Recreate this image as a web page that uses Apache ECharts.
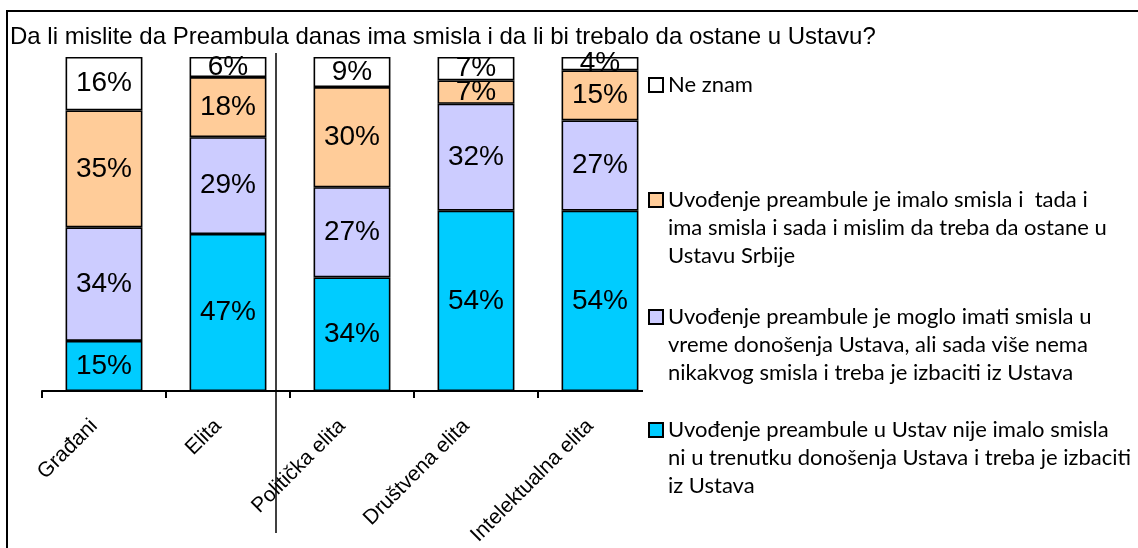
<!DOCTYPE html>
<html>
<head>
<meta charset="utf-8">
<style>
  html, body { margin: 0; padding: 0; background: #fff; }
  #chart { width: 1138px; height: 548px; }
</style>
<script src="https://cdn.jsdelivr.net/npm/echarts@6/dist/echarts.min.js"></script>
</head>
<body>
<div id="chart"></div>
<script>
const categories = ['Građani', 'Elita', 'Politička elita', 'Društvena elita', 'Intelektualna elita'];

// shares in %, bottom to top of each bar
const izbaciti = [15, 47, 34, 54, 54];
const viseNema = [34, 29, 27, 32, 27];
const ostane = [35, 18, 30, 7, 15];
const neZnam = [16, 6, 9, 7, 4];

const seriesNames = [
  'Uvođenje preambule u Ustav nije imalo smisla\nni u trenutku donošenja Ustava i treba je izbaciti\niz Ustava',
  'Uvođenje preambule je moglo imati smisla u\nvreme donošenja Ustava, ali sada više nema\nnikakvog smisla i treba je izbaciti iz Ustava',
  'Uvođenje preambule je imalo smisla i  tada i\nima smisla i sada i mislim da treba da ostane u\nUstavu Srbije',
  'Ne znam',
];
const colors = ['#00ccff', '#ccccff', '#ffcc99', '#ffffff'];

const element = document.getElementById('chart');
const instance = echarts.init(element);

const barSeries = (name, data, color) => ({
  name,
  type: 'bar',
  stack: 'total',
  barWidth: '62%',
  data,
  itemStyle: {
    color,
    borderColor: '#000',
    borderWidth: 1.6,
  },
  label: {
    show: true,
    position: 'inside',
    formatter: '{c}%',
    color: '#000',
    fontFamily: 'Liberation Sans',
    fontSize: 28,
  },
});

// one legend per entry so each can sit where the original put it;
// two blank lines in front keep the marker level with the first text line
const legendItem = (name, top, multi) => ({
  data: [name],
  left: 648,
  top,
  padding: 0,
  icon: 'rect',
  itemWidth: 14,
  itemHeight: 14,
  selectedMode: false,
  formatter: (n) => (multi ? '\n\n' + n : n),
  textStyle: {
    color: '#000',
    fontFamily: 'Lato',
    fontSize: 22,
    lineHeight: 28,
  },
});

const option = {
  animation: false,
  title: {
    text: 'Da li mislite da Preambula danas ima smisla i da li bi trebalo da ostane u Ustavu?',
    left: 10,
    top: 25,
    padding: 0,
    textStyle: {
      color: '#000',
      fontFamily: 'Liberation Sans',
      fontSize: 24,
      fontWeight: 'normal',
    },
  },
  legend: [
    legendItem(seriesNames[3], 71, false),
    legendItem(seriesNames[2], 130, true),
    legendItem(seriesNames[1], 247, true),
    legendItem(seriesNames[0], 360, true),
  ],
  grid: {
    left: 42,
    right: 476,
    top: 57,
    bottom: 154,
  },
  xAxis: {
    type: 'category',
    data: categories,
    axisLine: { lineStyle: { color: '#000', width: 2 } },
    axisTick: { show: true, length: 7, interval: 0, lineStyle: { color: '#000', width: 2 } },
    axisLabel: {
      interval: 0,
      rotate: 45,
      margin: 22,
      padding: [0, 14, 0, 0],
      color: '#000',
      fontFamily: 'Liberation Sans',
      fontSize: 21,
    },
  },
  yAxis: {
    type: 'value',
    min: 0,
    max: 100,
    show: false,
  },
  graphic: [
    {
      type: 'polyline',
      shape: { points: [[7, 548], [7, 11], [1138, 11]] },
      style: { stroke: '#000', lineWidth: 2, fill: null },
    },
    {
      type: 'line',
      shape: { x1: 276, y1: 53, x2: 276, y2: 533 },
      style: { stroke: '#000', lineWidth: 1.5 },
    },
    {
      // legend box of the original covers the end of the axis
      type: 'rect',
      shape: { x: 643, y: 384, width: 30, height: 22 },
      style: { fill: '#fff' },
      z: 100,
    },
  ],
  series: [
    barSeries(seriesNames[0], izbaciti, colors[0]),
    barSeries(seriesNames[1], viseNema, colors[1]),
    barSeries(seriesNames[2], ostane, colors[2]),
    barSeries(seriesNames[3], neZnam, colors[3]),
  ],
};

instance.setOption(option);
</script>
</body>
</html>
